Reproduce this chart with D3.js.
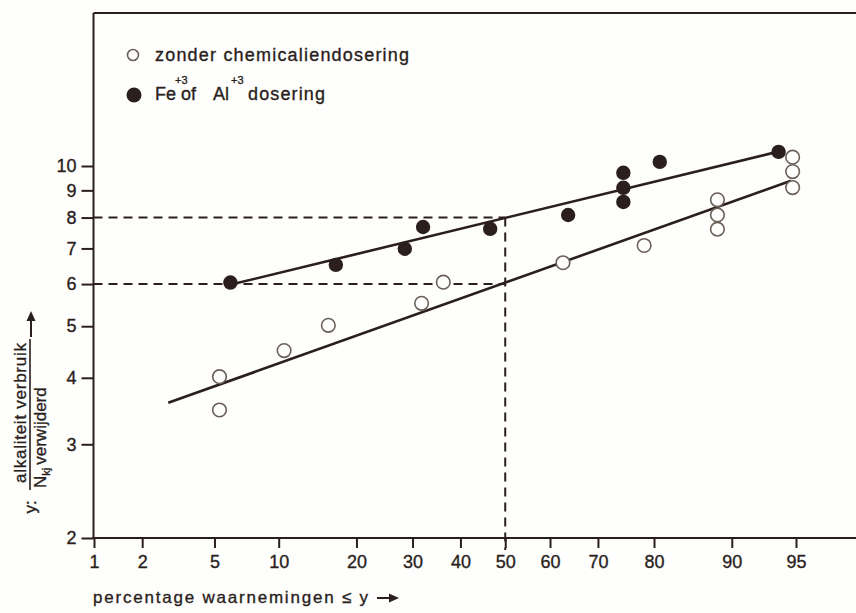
<!DOCTYPE html>
<html>
<head>
<meta charset="utf-8">
<script src="https://cdn.jsdelivr.net/npm/d3@7"></script>
<style>
  html, body { margin: 0; padding: 0; background: #fefefc; }
  svg { display: block; }
  text { font-family: "Liberation Sans", Arial, Helvetica, sans-serif; fill: #2a1f1c; stroke: #2a1f1c; stroke-width: 0.35px; }
</style>
</head>
<body>
<svg id="chart" width="856" height="613"></svg>
<script>
// ---- data ----
const xTicks = [1, 2, 5, 10, 20, 30, 40, 50, 60, 70, 80, 90, 95];
const yTicks = [2, 3, 4, 5, 6, 7, 8, 9, 10];

// open circles: zonder chemicaliendosering
const openPct = [5.3, 5.3, 10.55, 15.85, 31.8, 36.3, 62.8, 78.4, 88.5, 88.5, 88.5, 94.8, 94.8, 94.8];
const openVal = [4.02, 3.48, 4.50, 5.02, 5.52, 6.05, 6.58, 7.09, 8.64, 8.09, 7.61, 10.39, 9.76, 9.11];

// filled circles: Fe+3 of Al+3 dosering
const filledPct = [6.0, 16.9, 28.5, 32.1, 46.6, 63.9, 74.8, 74.8, 74.8, 80.9, 93.9];
const filledVal = [6.04, 6.52, 6.99, 7.68, 7.62, 8.09, 9.71, 9.10, 8.56, 10.18, 10.63];

// fitted lines (end points)
const openFitPct = [2.83, 94.7];
const openFitVal = [3.59, 9.38];
const filledFitPct = [6.18, 93.8];
const filledFitVal = [6.0, 10.63];

// reading lines
const refPct = 50;
const refVals = [6, 8];

const legendLabels = ["zonder chemicaliendosering", "dosering"];

// ---- helpers ----
function probit(p) {
  const a = [-3.969683028665376e+01, 2.209460984245205e+02, -2.759285104469687e+02, 1.383577518672690e+02, -3.066479806614716e+01, 2.506628277459239e+00];
  const b = [-5.447609879822406e+01, 1.615858368580409e+02, -1.556989798598866e+02, 6.680131188771972e+01, -1.328068155288572e+01];
  const c = [-7.784894002430293e-03, -3.223964580411365e-01, -2.400758277161838e+00, -2.549671200971520e+00, 4.374664141464968e+00, 2.938163982698783e+00];
  const d = [7.784695709041462e-03, 3.224671290700398e-01, 2.445134137142996e+00, 3.754408661907416e+00];
  const pl = 0.02425, ph = 1 - pl;
  let q, r;
  if (p < pl) {
    q = Math.sqrt(-2 * Math.log(p));
    return (((((c[0]*q+c[1])*q+c[2])*q+c[3])*q+c[4])*q+c[5]) / ((((d[0]*q+d[1])*q+d[2])*q+d[3])*q+1);
  }
  if (p <= ph) {
    q = p - 0.5; r = q * q;
    return (((((a[0]*r+a[1])*r+a[2])*r+a[3])*r+a[4])*r+a[5])*q / (((((b[0]*r+b[1])*r+b[2])*r+b[3])*r+b[4])*r+1);
  }
  q = Math.sqrt(-2 * Math.log(1 - p));
  return -(((((c[0]*q+c[1])*q+c[2])*q+c[3])*q+c[4])*q+c[5]) / ((((d[0]*q+d[1])*q+d[2])*q+d[3])*q+1);
}

const ink = "#2a1f1c";
const svg = d3.select("#chart");

const xz = d3.scaleLinear().domain([probit(0.01), probit(0.95)]).range([94, 796]);
const X = p => xz(probit(p / 100));
const Y = d3.scaleLog().domain([2, 10]).range([538, 166]);

const frameL = 93.5, frameT = 13, frameB = 538, frameR = 856;

// frame
svg.append("line").attr("x1", frameL).attr("x2", frameR).attr("y1", frameT).attr("y2", frameT)
  .attr("stroke", ink).attr("stroke-width", 2);
svg.append("line").attr("x1", frameL).attr("x2", frameL).attr("y1", frameT).attr("y2", frameB)
  .attr("stroke", ink).attr("stroke-width", 2);
svg.append("line").attr("x1", frameL - 1).attr("x2", frameR).attr("y1", frameB).attr("y2", frameB)
  .attr("stroke", ink).attr("stroke-width", 2);

// axes
const xAxis = d3.axisBottom(xz)
  .tickValues(xTicks.map(p => probit(p / 100)))
  .tickFormat((d, i) => xTicks[i])
  .tickSize(10).tickPadding(7);
const gx = svg.append("g").attr("transform", `translate(0,${frameB})`).call(xAxis);
gx.select(".domain").remove();
gx.selectAll(".tick line").attr("stroke", ink).attr("stroke-width", 2);
gx.selectAll(".tick text").attr("font-size", 18).attr("fill", ink);

const yAxis = d3.axisLeft(Y).tickValues(yTicks).tickFormat(d3.format("d")).tickSize(12).tickPadding(5);
const gy = svg.append("g").attr("transform", `translate(${frameL},0)`).call(yAxis);
gy.select(".domain").remove();
gy.selectAll(".tick line").attr("stroke", ink).attr("stroke-width", 2);
gy.selectAll(".tick text").attr("font-size", 18).attr("fill", ink);

// dashed reading lines
refVals.forEach(v => {
  svg.append("line").attr("x1", frameL).attr("x2", X(refPct)).attr("y1", Y(v)).attr("y2", Y(v))
    .attr("stroke", ink).attr("stroke-width", 2).attr("stroke-dasharray", "9,6");
});
svg.append("line").attr("x1", X(refPct)).attr("x2", X(refPct))
  .attr("y1", Y(d3.max(refVals))).attr("y2", frameB + 12)
  .attr("stroke", ink).attr("stroke-width", 2).attr("stroke-dasharray", "9,6");

// fitted lines
const lineGen = d3.line().x(d => X(d[0])).y(d => Y(d[1]));
svg.append("path").datum(d3.zip(openFitPct, openFitVal)).attr("d", lineGen)
  .attr("stroke", ink).attr("stroke-width", 2.6).attr("fill", "none");
svg.append("path").datum(d3.zip(filledFitPct, filledFitVal)).attr("d", lineGen)
  .attr("stroke", ink).attr("stroke-width", 2.6).attr("fill", "none");

// points
svg.append("g").selectAll("circle").data(d3.zip(openPct, openVal)).join("circle")
  .attr("cx", d => X(d[0])).attr("cy", d => Y(d[1])).attr("r", 6.8)
  .attr("fill", "#fefefc").attr("stroke", "#6a605a").attr("stroke-width", 1.6);
svg.append("g").selectAll("circle").data(d3.zip(filledPct, filledVal)).join("circle")
  .attr("cx", d => X(d[0])).attr("cy", d => Y(d[1])).attr("r", 7.2)
  .attr("fill", ink);

// legend
svg.append("circle").attr("cx", 133).attr("cy", 55).attr("r", 5.5)
  .attr("fill", "none").attr("stroke", "#6a605a").attr("stroke-width", 1.6);
svg.append("text").attr("x", 155).attr("y", 61).attr("font-size", 18)
  .attr("textLength", 254).attr("lengthAdjust", "spacing").text(legendLabels[0]);
svg.append("circle").attr("cx", 134).attr("cy", 95).attr("r", 7.5).attr("fill", ink);
svg.append("text").attr("x", 155).attr("y", 100).attr("font-size", 18).text("Fe");
svg.append("text").attr("x", 175).attr("y", 84).attr("font-size", 11).text("+3");
svg.append("text").attr("x", 181).attr("y", 100).attr("font-size", 18).text("of");
svg.append("text").attr("x", 213).attr("y", 100).attr("font-size", 18).text("Al");
svg.append("text").attr("x", 231).attr("y", 84).attr("font-size", 11).text("+3");
svg.append("text").attr("x", 248).attr("y", 100).attr("font-size", 18)
  .attr("textLength", 77).attr("lengthAdjust", "spacing").text(legendLabels[1]);

// x axis label
svg.append("text").attr("x", 93).attr("y", 603).attr("font-size", 17)
  .attr("textLength", 275).attr("lengthAdjust", "spacing")
  .text("percentage waarnemingen \u2264 y");
svg.append("line").attr("x1", 377).attr("x2", 392).attr("y1", 598).attr("y2", 598)
  .attr("stroke", ink).attr("stroke-width", 2);
svg.append("path").attr("d", "M399,598 L389,593.5 L389,602.5 Z").attr("fill", ink);

// y axis label (rotated)
const yl = svg.append("g").attr("transform", "translate(30,415) rotate(-90)");
yl.append("text").attr("x", -92).attr("y", 6).attr("text-anchor", "middle").attr("font-size", 17).text("y:");
yl.append("text").attr("x", 2).attr("y", -4).attr("text-anchor", "middle").attr("font-size", 17)
  .attr("textLength", 140).attr("lengthAdjust", "spacing").text("alkaliteit verbruik");
yl.append("line").attr("x1", -75).attr("x2", 76).attr("y1", 0).attr("y2", 0)
  .attr("stroke", ink).attr("stroke-width", 1.6);
const den = yl.append("text").attr("x", -73).attr("y", 16).attr("font-size", 17);
den.append("tspan").text("N");
den.append("tspan").attr("font-size", 11).attr("dy", 4).text("kj");
den.append("tspan").attr("dy", -4).attr("dx", 3).text("verwijderd");
yl.append("line").attr("x1", 78).attr("x2", 95).attr("y1", 1).attr("y2", 1)
  .attr("stroke", ink).attr("stroke-width", 2);
yl.append("path").attr("d", "M104,1 L94,-3.5 L94,5.5 Z").attr("fill", ink);
</script>
</body>
</html>
